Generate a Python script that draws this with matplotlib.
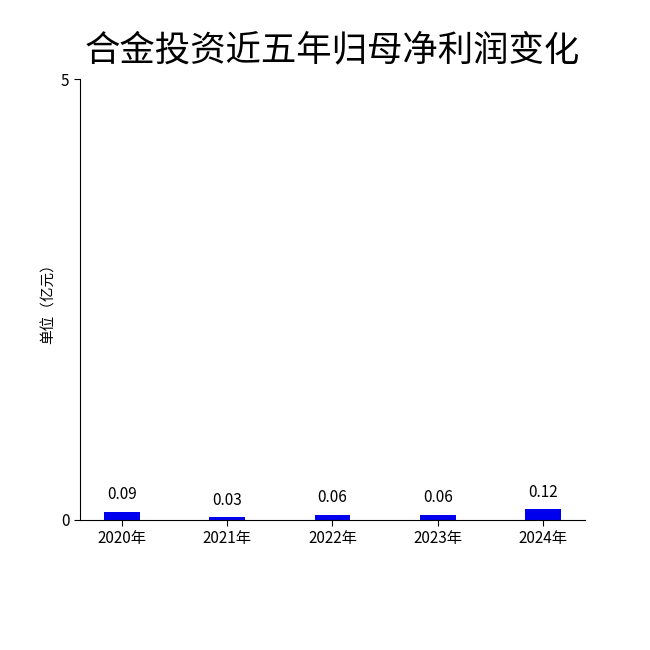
import matplotlib
matplotlib.use('Agg')
import matplotlib.pyplot as plt

plt.rcParams['font.family'] = ['Noto Sans CJK SC', 'DejaVu Sans']

years = ['2020年', '2021年', '2022年', '2023年', '2024年']
profit = [0.09, 0.03, 0.06, 0.06, 0.12]
labels = ['0.09', '0.03', '0.06', '0.06', '0.12']

fig = plt.figure(figsize=(6.5, 6.5), dpi=100)
ax = fig.add_axes([0.123, 0.2, 0.777, 0.678])

x = range(len(years))
ax.bar(x, profit, width=0.34, color='#0000ee')
for i in x:
    ax.text(i, profit[i] + 0.1, labels[i], ha='center', va='bottom', fontsize=11)

ax.set_xlim(-0.4, 4.4)
ax.set_ylim(0, 5)
ax.set_yticks([0, 5])
ax.set_xticks(list(x))
ax.set_xticklabels(years, fontsize=11)
ax.tick_params(axis='y', labelsize=11, length=4)
ax.tick_params(axis='x', length=4)
ax.spines['top'].set_visible(False)
ax.spines['right'].set_visible(False)
ax.set_ylabel('单位（亿元）', fontsize=10.5, labelpad=4)

fig.text(0.511, 0.922, '合金投资近五年归母净利润变化', fontsize=25.5,
         ha='center', va='center')

fig.savefig('out.png', dpi=100)
